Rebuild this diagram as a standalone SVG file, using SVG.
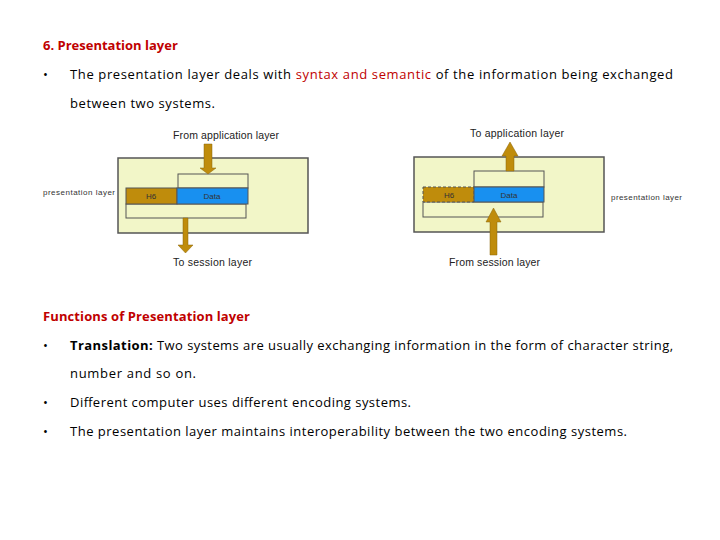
<svg xmlns="http://www.w3.org/2000/svg" width="720" height="540" viewBox="0 0 720 540">
<style>
.t{font-family:"Open Sans","DejaVu Sans",sans-serif;font-size:13px;fill:#000}
.h{font-family:"Open Sans","DejaVu Sans",sans-serif;font-size:13px;font-weight:bold;fill:#c00000}
.r{fill:#c00000}
.s{font-family:"Liberation Sans",Arial,sans-serif;font-size:10.5px;fill:#222}
.d{font-family:"Liberation Sans",Arial,sans-serif;font-size:8px;fill:#333}
.box{fill:#f2f6c8;stroke:#555;stroke-width:1.5}
.in{fill:#f2f6c8;stroke:#555;stroke-width:1}
.h6{fill:#bf8c0c;stroke:#555;stroke-width:1}
.dat{fill:#1890f0;stroke:#555;stroke-width:1}
.arr{fill:#bf8c0c;stroke:#8a6508;stroke-width:0.5}
</style>
<rect width="720" height="540" fill="#fff"/>
<text class="h" x="43" y="50">6. Presentation layer</text>
<text class="t" x="43" y="79">•</text>
<text class="t" x="70" y="79" textLength="603">The presentation layer deals with <tspan class="r">syntax and semantic</tspan> of the information being exchanged</text>
<text class="t" x="70" y="108" textLength="145">between two systems.</text>

<g id="left">
<rect class="box" x="118" y="158" width="190" height="75"/>
<rect class="in" x="178" y="174" width="70" height="14"/>
<rect class="in" x="126" y="204" width="120" height="14"/>
<rect class="h6" x="126" y="188" width="51" height="16"/>
<rect class="dat" x="177" y="188" width="71" height="16"/>
<text class="d" x="151" y="199" text-anchor="middle">H6</text>
<text class="d" x="212" y="199" text-anchor="middle">Data</text>
<polygon class="arr" points="204,144 212,144 212,168 216,168 208,174 200,168 204,168"/>
<polygon class="arr" points="183,218 188,218 188,245 193,245 185.5,253 178,245 183,245"/>
<text class="s" x="173" y="139" textLength="106">From application layer</text>
<text class="s" x="173" y="266" textLength="79">To session layer</text>
<text class="d" x="43" y="195" textLength="72">presentation layer</text>
</g>

<g id="right">
<rect class="box" x="414" y="157" width="190" height="75"/>
<rect class="in" x="474" y="171" width="70" height="16"/>
<rect class="in" x="423" y="202" width="120" height="15"/>
<rect class="h6" x="423" y="187" width="51" height="15" stroke-dasharray="3,2"/>
<rect class="dat" x="474" y="187" width="70" height="15"/>
<text class="d" x="449" y="198" text-anchor="middle">H6</text>
<text class="d" x="509" y="198" text-anchor="middle">Data</text>
<polygon class="arr" points="506,171 514,171 514,156 518,156 510,142 502,156 506,156"/>
<polygon class="arr" points="490,255 497,255 497,222 501,222 493.5,208 486,222 490,222"/>
<text class="s" x="470" y="137" textLength="94">To application layer</text>
<text class="s" x="449" y="266" textLength="91">From session layer</text>
<text class="d" x="611" y="200" textLength="71">presentation layer</text>
</g>

<text class="h" x="43" y="321" textLength="207">Functions of Presentation layer</text>
<text class="t" x="43" y="350">•</text>
<text class="t" x="70" y="350" textLength="603"><tspan font-weight="bold">Translation:</tspan> Two systems are usually exchanging information in the form of character string,</text>
<text class="t" x="70" y="378" textLength="126">number and so on.</text>
<text class="t" x="43" y="407">•</text>
<text class="t" x="70" y="407" textLength="341">Different computer uses different encoding systems.</text>
<text class="t" x="43" y="436">•</text>
<text class="t" x="70" y="436" textLength="557">The presentation layer maintains interoperability between the two encoding systems.</text>
</svg>
